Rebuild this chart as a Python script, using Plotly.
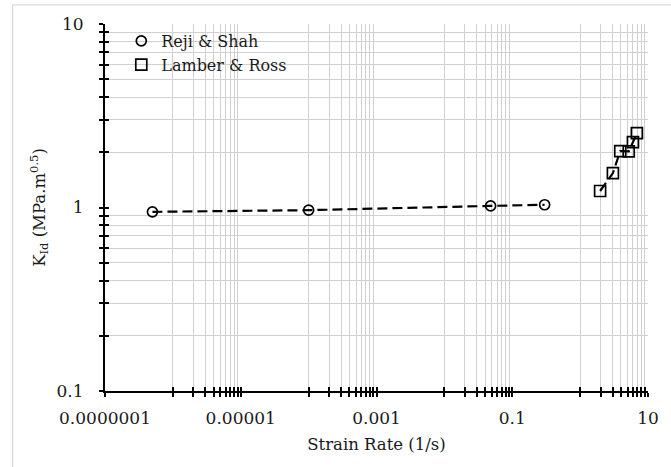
import plotly.graph_objects as go

# Dynamic fracture toughness vs. strain rate
reji_rate = [5e-7, 1e-4, 0.048, 0.30]
reji_kid = [0.947, 0.967, 1.02, 1.035]

lamber_rate = [1.97, 3.04, 3.9, 5.2, 6.0, 6.86]
lamber_kid = [1.23, 1.54, 2.03, 2.02, 2.27, 2.54]

x_major = [1e-7, 1e-5, 1e-3, 1e-1, 10]
x_labels = ["0.0000001", "0.00001", "0.001", "0.1", "10"]
y_major = [0.1, 1, 10]
y_labels = ["0.1", "1", "10"]

# Minor ticks: log base 100 on x (10..90 x major), base 10 on y (2..9 x major)
x_minor = [m * 10 * k for m in x_major[:-1] for k in range(1, 10)]
y_minor = [m * k for m in y_major[:-1] for k in range(2, 10)]

FONT = "DejaVu Serif"
TXT = "#1a1a1a"
GRID = "#d0d0d0"

fig = go.Figure()

line_style = dict(color="black", width=2.2, dash="10px,5px")

fig.add_trace(go.Scatter(x=reji_rate, y=reji_kid, mode="lines",
                         line=line_style, showlegend=False, hoverinfo="skip"))
fig.add_trace(go.Scatter(x=lamber_rate, y=lamber_kid, mode="lines",
                         line=line_style, showlegend=False, hoverinfo="skip"))
fig.add_trace(go.Scatter(x=reji_rate, y=reji_kid, mode="markers", name="Reji & Shah",
                         marker=dict(symbol="circle-open", size=10, color="black",
                                     line=dict(width=1.7, color="black"))))
fig.add_trace(go.Scatter(x=lamber_rate, y=lamber_kid, mode="markers", name="Lamber & Ross",
                         marker=dict(symbol="square-open", size=11, color="black",
                                     line=dict(width=1.7, color="black"))))
# empty trace that carries the inner-tick overlay axes
fig.add_trace(go.Scatter(x=[], y=[], xaxis="x2", yaxis="y2", showlegend=False))

common_x = dict(type="log", range=[-7, 1], tickmode="array", tickvals=x_major,
                showgrid=False, zeroline=False)
common_y = dict(type="log", range=[-1, 1], tickmode="array", tickvals=y_major,
                showgrid=False, zeroline=False)

fig.update_layout(
    width=671, height=467,
    margin=dict(l=105, r=14, t=24, b=76),
    paper_bgcolor="white", plot_bgcolor="white",
    font=dict(family=FONT, size=16, color=TXT),
    xaxis=dict(**common_x, ticktext=x_labels, ticks="outside", ticklen=4,
               tickwidth=2, tickcolor="black", showline=True, linecolor="black",
               linewidth=2, ticklabelstandoff=7,
               tickfont=dict(family=FONT, size=17, color=TXT),
               minor=dict(tickmode="array", tickvals=x_minor, ticks="outside",
                          ticklen=4, tickwidth=1.5, tickcolor="black",
                          showgrid=True, gridcolor=GRID, gridwidth=1),
               title=dict(text="Strain Rate (1/s)", standoff=11,
                          font=dict(family=FONT, size=16.5, color=TXT))),
    yaxis=dict(**common_y, ticktext=y_labels, ticks="outside", ticklen=4,
               tickwidth=2, tickcolor="black", showline=True, linecolor="black",
               linewidth=2, ticklabelstandoff=12,
               tickfont=dict(family=FONT, size=17, color=TXT),
               minor=dict(tickmode="array", tickvals=y_minor, ticks="outside",
                          ticklen=4, tickwidth=1.5, tickcolor="black",
                          showgrid=True, gridcolor=GRID, gridwidth=1),
               title=dict(text="K<sub>Id</sub> (MPa.m<sup>0.5</sup>)", standoff=7,
                          font=dict(family=FONT, size=16.5, color=TXT))),
    xaxis2=dict(**common_x, overlaying="x", anchor="y", side="bottom",
                ticks="inside", ticklen=4, tickwidth=2, tickcolor="black",
                showticklabels=False, showline=False,
                minor=dict(tickmode="array", tickvals=x_minor, ticks="inside",
                           ticklen=4, tickwidth=1.5, tickcolor="black", showgrid=False)),
    yaxis2=dict(**common_y, overlaying="y", anchor="x", side="left",
                ticks="inside", ticklen=4, tickwidth=2, tickcolor="black",
                showticklabels=False, showline=False,
                minor=dict(tickmode="array", tickvals=y_minor, ticks="inside",
                           ticklen=4, tickwidth=1.5, tickcolor="black", showgrid=False)),
    legend=dict(x=0.03, y=1.0, xanchor="left", yanchor="top",
                bgcolor="rgba(0,0,0,0)", borderwidth=0, tracegroupgap=0,
                itemwidth=30, font=dict(family=FONT, size=16, color=TXT)),
    showlegend=True,
)

# chart-area frame
fig.add_shape(type="rect", xref="paper", yref="paper",
              x0=-0.170, x1=1.05, y0=-0.30, y1=1.052,
              line=dict(color="#d0d0d0", width=1), fillcolor="rgba(0,0,0,0)",
              layer="below")

fig.write_html("out.html")
